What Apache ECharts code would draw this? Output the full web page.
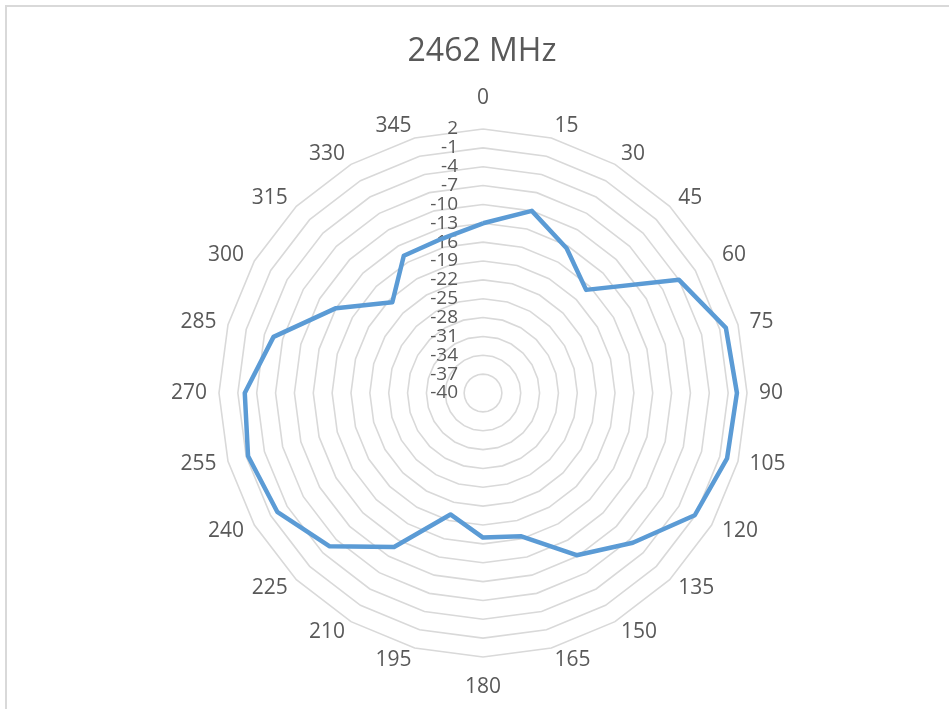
<!DOCTYPE html>
<html>
<head>
<meta charset="utf-8">
<script src="https://cdn.jsdelivr.net/npm/echarts@6/dist/echarts.min.js"></script>
<style>
  html, body { margin: 0; padding: 0; background: #fff; }
  #frame { position: absolute; left: 5px; top: 5px; width: 944px; height: 704px;
           border-top: 2px solid #d9d9d9; border-left: 2px solid #d9d9d9; box-sizing: border-box; }
  #chart { position: absolute; left: 0; top: 0; width: 949px; height: 709px; }
</style>
</head>
<body>
<div id="frame"></div>
<div id="chart"></div>
<script>
// Angles (degrees, clockwise from top) and measured level (dB) at each angle
const angles = [0, 15, 30, 45, 60, 75, 90, 105, 120, 135, 150, 165,
                180, 195, 210, 225, 240, 255, 270, 285, 300, 315, 330, 345];
const levels = [-13, -10, -13.4, -16.8, -4, 0, 0.4, 0.2, -1.1, -6.3, -10.2, -16.4,
                -17, -20, -11.7, -5.5, -2.2, -1.3, -2.1, -5.5, -13, -19.6, -14.8, -14.6];
const axisMin = -40;
const axisMax = 2;
const axisSplits = 14;
const titleText = '2462 MHz';

// ECharts radar lays indicators out counter-clockwise; reverse to get clockwise order
const order = angles.map((a, i) => i).map(i => (angles.length - i) % angles.length);
const indicators = order.map((idx, k) => {
  const ind = { name: String(angles[idx]), min: axisMin, max: axisMax };
  if (k === 0) {
    ind.axisLabel = { show: true };
  }
  return ind;
});
const values = order.map(idx => levels[idx]);

const textColor = '#595959';
const fontFam = '"Open Sans", "Noto Sans", sans-serif';

const chart = echarts.init(document.getElementById('chart'), null, { renderer: 'canvas' });
chart.setOption({
  backgroundColor: 'transparent',
  animation: false,
  title: {
    text: titleText,
    left: 477,
    textAlign: 'center',
    top: 31,
    textStyle: { color: textColor, fontSize: 32, fontWeight: 'normal', fontFamily: fontFam }
  },
  radar: {
    center: [483, 393],
    radius: 264,
    startAngle: 90,
    shape: 'polygon',
    splitNumber: axisSplits,
    nameGap: 12,
    axisName: {
      color: textColor,
      fontSize: 21,
      fontFamily: fontFam,
      padding: [8, 0, 8, 0]
    },
    axisLine: { show: false },
    axisTick: { show: false },
    splitArea: { show: false },
    splitLine: { lineStyle: { color: '#d9d9d9', width: 1.6 } },
    axisLabel: {
      show: false,
      color: textColor,
      fontSize: 19,
      fontFamily: fontFam,
      margin: 25,
      showMinLabel: true,
      showMaxLabel: true
    },
    indicator: indicators
  },
  series: [{
    type: 'radar',
    symbol: 'none',
    lineStyle: { color: '#5B9BD5', width: 4.5 },
    data: [{ value: values, name: titleText }]
  }]
});
</script>
</body>
</html>
